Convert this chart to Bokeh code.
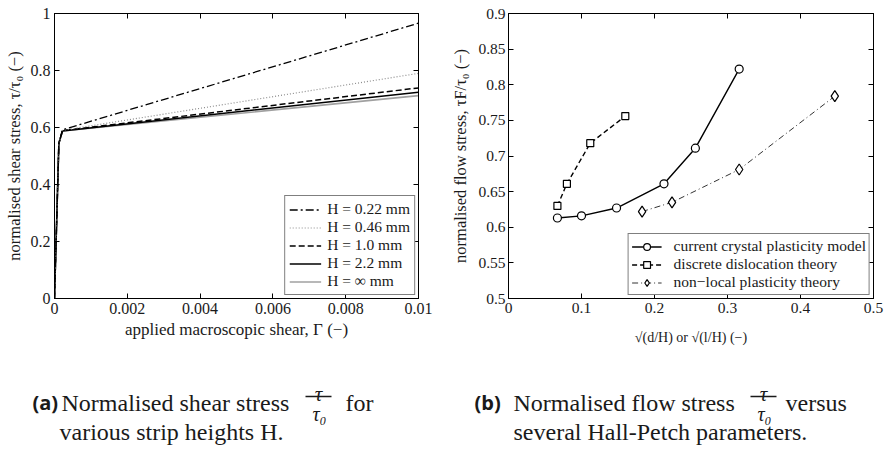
from bokeh.plotting import figure
from bokeh.models import (Legend, LegendItem, LinearAxis, FixedTicker,
                          CustomJSTickFormatter, Range1d)
from bokeh.layouts import column, row
from bokeh.embed import file_html
from bokeh.resources import INLINE
from bokeh.core.properties import value

# ---------------- data: panel (a) ----------------
gamma = [0.0, 0.00012, 0.00022, 0.01]
stress_H022 = [0.0, 0.545, 0.592, 0.966]
stress_H046 = [0.0, 0.545, 0.590, 0.790]
stress_H10 = [0.0, 0.545, 0.589, 0.739]
stress_H22 = [0.0, 0.545, 0.588, 0.724]
stress_Hinf = [0.0, 0.545, 0.588, 0.712]
labels_a = ["H = 0.22 mm", "H = 0.46 mm", "H = 1.0 mm", "H = 2.2 mm", "H = ∞ mm"]
xticks_a = [0, 0.002, 0.004, 0.006, 0.008, 0.01]
yticks_a = [0, 0.2, 0.4, 0.6, 0.8, 1]

# ---------------- data: panel (b) ----------------
cp_x = [0.067, 0.100, 0.148, 0.213, 0.256, 0.316]
cp_y = [0.613, 0.616, 0.627, 0.661, 0.711, 0.822]
dd_x = [0.067, 0.080, 0.112, 0.160]
dd_y = [0.630, 0.661, 0.718, 0.756]
nl_x = [0.183, 0.224, 0.316, 0.447]
nl_y = [0.622, 0.635, 0.681, 0.784]
labels_b = ["current crystal plasticity model", "discrete dislocation theory",
            "non\u2212local plasticity theory"]
xticks_b = [0, 0.1, 0.2, 0.3, 0.4, 0.5]
yticks_b = [0.5, 0.55, 0.6, 0.65, 0.7, 0.75, 0.8, 0.85, 0.9]

SERIF = "Liberation Serif"
TXT = "#1a1a1a"
FMT = "return String(Number(tick.toPrecision(6)));"


def style_axis(ax, ticks, fs):
    ax.ticker = FixedTicker(ticks=ticks)
    ax.formatter = CustomJSTickFormatter(code=FMT)
    ax.major_tick_in = 5
    ax.major_tick_out = 0
    ax.minor_tick_line_color = None
    ax.axis_line_color = "black"
    ax.major_tick_line_color = "black"
    ax.major_label_text_font = SERIF
    ax.major_label_text_font_size = fs
    ax.major_label_text_color = TXT
    ax.axis_label_text_font = SERIF
    ax.axis_label_text_font_style = "normal"
    ax.axis_label_text_color = TXT


def mirror(p, ticks, place):
    ax = LinearAxis(ticker=FixedTicker(ticks=ticks),
                    formatter=CustomJSTickFormatter(code="return '';"),
                    major_tick_in=5, major_tick_out=0,
                    minor_tick_line_color=None,
                    major_label_text_font_size="0px",
                    major_label_standoff=0,
                    axis_line_color="black", major_tick_line_color="black")
    p.add_layout(ax, place)


def base_fig(xr, yr, left, right):
    p = figure(width=442, height=350, x_range=xr, y_range=yr,
               output_backend="svg", toolbar_location=None,
               min_border_left=left, min_border_right=right,
               min_border_top=13, min_border_bottom=52)
    p.grid.visible = False
    p.outline_line_color = "black"
    p.background_fill_color = "white"
    p.border_fill_color = "white"
    return p


# ---------------- panel (a) ----------------
pa = base_fig(Range1d(0, 0.01), Range1d(0, 1), 54, 24)
style_axis(pa.xaxis[0], xticks_a, "16px")
style_axis(pa.yaxis[0], yticks_a, "16px")
pa.xaxis[0].axis_label = "applied macroscopic shear, Γ (\u2212)"
pa.xaxis[0].axis_label_text_font_size = "17px"
pa.xaxis[0].major_label_standoff = 4
pa.xaxis[0].axis_label_standoff = 3
pa.yaxis[0].axis_label = "normalised shear stress, τ/τ\u2080 (\u2212)"
pa.yaxis[0].axis_label_text_font_size = "16.5px"
pa.yaxis[0].major_label_standoff = 4
pa.yaxis[0].axis_label_standoff = 4
mirror(pa, xticks_a, "above")
mirror(pa, yticks_a, "right")

r_inf = pa.line(gamma, stress_Hinf, line_color="#a0a0a0", line_width=1.6)
r_22 = pa.line(gamma, stress_H22, line_color="black", line_width=1.5)
r_10 = pa.line(gamma, stress_H10, line_color="black", line_width=1.5, line_dash="6 3")
r_046 = pa.line(gamma, stress_H046, line_color="#8c8c8c", line_width=1.2, line_dash="1 2")
r_022 = pa.line(gamma, stress_H022, line_color="black", line_width=1.3, line_dash="8 3 2 3")

leg_a = Legend(items=[LegendItem(label=labels_a[0], renderers=[r_022]),
                      LegendItem(label=labels_a[1], renderers=[r_046]),
                      LegendItem(label=labels_a[2], renderers=[r_10]),
                      LegendItem(label=labels_a[3], renderers=[r_22]),
                      LegendItem(label=labels_a[4], renderers=[r_inf])],
               location="bottom_right", margin=3, padding=4, spacing=0,
               glyph_width=32, glyph_height=17, label_height=17,
               label_standoff=6, border_line_color="black",
               border_line_width=1.5, background_fill_alpha=1,
               label_text_font=SERIF, label_text_font_size="15.5px",
               label_text_color=TXT)
pa.add_layout(leg_a)

# ---------------- panel (b) ----------------
pb = base_fig(Range1d(0, 0.5), Range1d(0.5, 0.9), 66, 11)
style_axis(pb.xaxis[0], xticks_b, "15.5px")
style_axis(pb.yaxis[0], yticks_b, "15.5px")
pb.xaxis[0].axis_label = "√(d/H) or √(l/H) (\u2212)"
pb.xaxis[0].axis_label_text_font_size = "14px"
pb.xaxis[0].major_label_standoff = 4
pb.xaxis[0].axis_label_standoff = 14
pb.yaxis[0].axis_label = "normalised flow stress, τF/τ\u2080 (\u2212)"
pb.yaxis[0].axis_label_text_font_size = "16.5px"
pb.yaxis[0].major_label_standoff = 3
pb.yaxis[0].axis_label_standoff = 5
mirror(pb, xticks_b, "above")
mirror(pb, yticks_b, "right")

l_cp = pb.line(cp_x, cp_y, line_color="black", line_width=1.4)
s_cp = pb.scatter(cp_x, cp_y, marker="circle", size=8, fill_color="white",
                  line_color="black", line_width=1.2)
l_dd = pb.line(dd_x, dd_y, line_color="black", line_width=1.4, line_dash="5 3")
s_dd = pb.scatter(dd_x, dd_y, marker="square", size=7, fill_color="white",
                  line_color="black", line_width=1.2)
l_nl = pb.line(nl_x, nl_y, line_color="#333333", line_width=1.0, line_dash="6 3 1 3")
s_nl = pb.scatter(nl_x, nl_y, marker="diamond", size=11, fill_color="white",
                  line_color="black", line_width=1.2)

leg_b = Legend(items=[LegendItem(label=labels_b[0], renderers=[l_cp, s_cp]),
                      LegendItem(label=labels_b[1], renderers=[l_dd, s_dd]),
                      LegendItem(label=labels_b[2], renderers=[l_nl, s_nl])],
               location="bottom_right", margin=3, padding=3, spacing=0,
               glyph_width=30, glyph_height=17, label_height=17,
               label_standoff=12, border_line_color="black",
               border_line_width=1.5, background_fill_alpha=1,
               label_text_font=SERIF, label_text_font_size="15.5px",
               label_text_color=TXT)
pb.add_layout(leg_b)

# ---------------- captions ----------------
cap = figure(width=884, height=102, x_range=Range1d(0, 884),
             y_range=Range1d(452, 350), output_backend="svg",
             toolbar_location=None, min_border=0,
             x_axis_location=None, y_axis_location=None)
cap.grid.visible = False
cap.outline_line_color = None
cap.background_fill_color = "white"
cap.border_fill_color = "white"

b1, b2 = 402, 431
cap.text(x=[32, 474], y=[b1, b1], text=["(a)", "(b)"],
         text_font=value("Open Sans"), text_font_style="bold",
         text_font_size="20px", text_color=TXT, text_baseline="alphabetic")
cap.text(x=[61, 59, 513, 513], y=[b1, b2, b1, b2],
         text=["Normalised shear stress", "various strip heights H.",
               "Normalised flow stress", "several Hall-Petch parameters."],
         text_font=value(SERIF), text_font_size="24px", text_color=TXT,
         text_baseline="alphabetic")
cap.text(x=[345, 785], y=[b1, b1], text=["for", "versus"],
         text_font=value(SERIF), text_font_size="24px", text_color=TXT,
         text_baseline="alphabetic")
# stacked fractions tau / tau_0
cap.text(x=[318, 763], y=[b1 - 9, b1 - 9], text=["τ", "τ"], text_align="center",
         text_font=value(SERIF), text_font_style="italic",
         text_font_size="21px", text_color=TXT, text_baseline="alphabetic")
cap.segment(x0=[305, 750], y0=[b1 - 6, b1 - 6], x1=[331, 776], y1=[b1 - 6, b1 - 6],
            line_color=TXT, line_width=1.3)
cap.text(x=[319, 764], y=[b1 + 11, b1 + 11], text=["τ\u2080", "τ\u2080"],
         text_align="center", text_font=value(SERIF), text_font_style="italic",
         text_font_size="20px", text_color=TXT, text_baseline="alphabetic")

layout = column(row(pa, pb), cap)
open("out.html", "w").write(file_html(layout, INLINE))
